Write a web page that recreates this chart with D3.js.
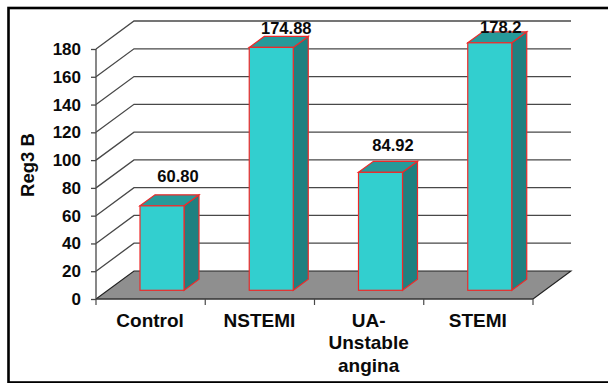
<!DOCTYPE html>
<html>
<head>
<meta charset="utf-8">
<script src="https://cdn.jsdelivr.net/npm/d3@7"></script>
<style>
html,body{margin:0;padding:0;background:#fff;overflow:hidden;}
svg{display:block;}
text{font-family:"Liberation Sans",Arial,sans-serif;font-weight:bold;fill:#0a0a0a;}
</style>
</head>
<body>
<svg id="chart" width="608" height="383"></svg>
<script>
const categories = [["Control"], ["NSTEMI"], ["UA-", "Unstable", "angina"], ["STEMI"]];
const values = [60.80, 174.88, 84.92, 178.2];
const valueLabels = ["60.80", "174.88", "84.92", "178.2"];
const yTicks = [0, 20, 40, 60, 80, 100, 120, 140, 160, 180];

// Hand-placed offsets of the value labels, relative to each bar's top centre
const labelDx = [16, 15, 12.5, 11];
const labelDy = [-24, -13, -21, -10];

const svg = d3.select("#chart");
const plot = {left: 96, right: 533, top: 49, bottom: 299};
const wall = {dx: 38, dy: -28};
const bar = {width: 44, inset: 44, dx: 15, dy: -11, lift: 8.7};
const lineColor = "#484848";
const edgeColor = "#ee2a2a";

const y = d3.scaleLinear().domain([0, 180]).range([plot.bottom, plot.top]);
const x = d3.scaleBand().domain(d3.range(categories.length)).range([plot.left, plot.right]);
const line = d3.line();

// Outer frame; it runs off the right and bottom of the page
svg.append("rect").attr("x", 8.5).attr("y", 8).attr("width", 640).attr("height", 374.5)
  .attr("fill", "#fff").attr("stroke", "#000").attr("stroke-width", 2.6);

// Floor
svg.append("path")
  .attr("d", line([[plot.left, y(0)], [plot.right, y(0)],
    [plot.right + wall.dx, y(0) + wall.dy], [plot.left + wall.dx, y(0) + wall.dy]]) + "Z")
  .attr("fill", "#8f8f8f");

// Gridlines across the side and back walls
const gridLevels = yTicks.filter(d => d > 0);
svg.append("g").selectAll("path").data(gridLevels).join("path")
  .attr("d", d => line([[plot.left, y(d)], [plot.left + wall.dx, y(d) + wall.dy],
    [plot.right + wall.dx, y(d) + wall.dy]]))
  .attr("fill", "none").attr("stroke", lineColor).attr("stroke-width", 1.3);

// Rear and side edges of the floor
svg.append("path")
  .attr("d", line([[plot.left, y(0)], [plot.left + wall.dx, y(0) + wall.dy],
    [plot.right + wall.dx, y(0) + wall.dy], [plot.right, y(0)]]))
  .attr("fill", "none").attr("stroke", "#222").attr("stroke-width", 1.1);

// Value axis
const yAxis = d3.axisLeft(y).tickValues(yTicks).tickSize(5).tickPadding(10);
const yG = svg.append("g").attr("transform", `translate(${plot.left},0)`).call(yAxis);
yG.select(".domain").attr("stroke", lineColor).attr("stroke-width", 1.3).attr("d", `M0,${y(180)}V${y(0)}`);
yG.selectAll("line").attr("stroke", lineColor).attr("stroke-width", 1.3);
yG.selectAll("text").style("font-size", "17px");

// Category axis baseline and tick marks between categories
svg.append("line").attr("x1", plot.left).attr("x2", plot.right).attr("y1", y(0)).attr("y2", y(0))
  .attr("stroke", "#333").attr("stroke-width", 1.7);
svg.append("g").selectAll("line").data(d3.range(categories.length + 1)).join("line")
  .attr("x1", i => plot.left + i * x.step()).attr("x2", i => plot.left + i * x.step())
  .attr("y1", y(0)).attr("y2", y(0) + 6)
  .attr("stroke", lineColor).attr("stroke-width", 1.2);

// Bars: side face, top face, front face
const barX = i => x(i) + bar.inset;
const barBase = y(0) - bar.lift;
const barTop = v => y(v) - bar.lift;
const bars = svg.append("g").selectAll("g").data(values).join("g");

bars.append("path")
  .attr("d", (d, i) => line([[barX(i) + bar.width, barTop(d)],
    [barX(i) + bar.width + bar.dx, barTop(d) + bar.dy],
    [barX(i) + bar.width + bar.dx, barBase + bar.dy],
    [barX(i) + bar.width, barBase]]) + "Z")
  .attr("fill", "#1f8080").attr("stroke", edgeColor).attr("stroke-width", 1.2);
bars.append("path")
  .attr("d", (d, i) => line([[barX(i), barTop(d)],
    [barX(i) + bar.dx, barTop(d) + bar.dy],
    [barX(i) + bar.width + bar.dx, barTop(d) + bar.dy],
    [barX(i) + bar.width, barTop(d)]]) + "Z")
  .attr("fill", "#269a9a").attr("stroke", edgeColor).attr("stroke-width", 1.2);
bars.append("rect")
  .attr("x", (d, i) => barX(i)).attr("y", d => barTop(d))
  .attr("width", bar.width).attr("height", d => barBase - barTop(d))
  .attr("fill", "#32cfcf").attr("stroke", edgeColor).attr("stroke-width", 1.2);

// Value labels
bars.append("text")
  .attr("x", (d, i) => barX(i) + bar.width / 2 + labelDx[i])
  .attr("y", (d, i) => barTop(d) + labelDy[i])
  .attr("text-anchor", "middle").style("font-size", "16.5px")
  .text((d, i) => valueLabels[i]);

// Category labels, wrapped over several lines where needed
const cat = svg.append("g").selectAll("text").data(categories).join("text")
  .attr("text-anchor", "middle").style("font-size", "19px")
  .attr("transform", (d, i) => `translate(${plot.left + (i + 0.5) * x.step() - 0.5},327)`);
cat.selectAll("tspan").data(d => d).join("tspan")
  .attr("x", 0).attr("dy", (d, i) => i ? 22.3 : 0).text(d => d);

// Axis title
svg.append("text").attr("transform", "translate(34,165) rotate(-90)")
  .attr("text-anchor", "middle").style("font-size", "18.5px").text("Reg3 B");
</script>
</body>
</html>
